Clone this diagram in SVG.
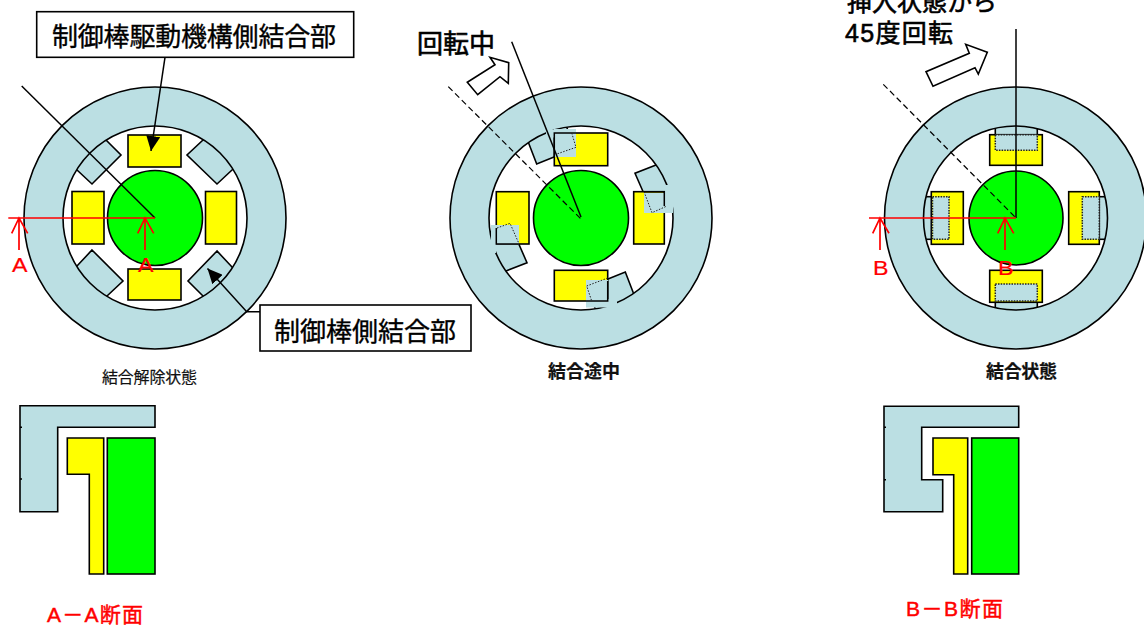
<svg xmlns="http://www.w3.org/2000/svg" width="1144" height="626" viewBox="0 0 1144 626">
<style>
.s{stroke:#000;stroke-width:1.6;stroke-linejoin:miter}
.b{fill:#bbdfe3}.y{fill:#ff0}.g{fill:#0f0}
.n{fill:none}.w{fill:#fff}
.d{fill:none;stroke:#222;stroke-width:1;stroke-dasharray:1.5 1.5}
.bd{fill:#bbdfe3;stroke:#222;stroke-width:1.5;stroke-dasharray:1.5 1.2}
.l{stroke:#000;stroke-width:1.5;fill:none}
.da{stroke:#000;stroke-width:1.2;fill:none;stroke-dasharray:6 3.5}
.r{stroke:#f00;stroke-width:1.7;fill:none}
.t{font-family:"Liberation Sans","Noto Sans CJK JP",sans-serif;fill:#000;stroke:#000;stroke-width:.35}
.h{font-family:"Liberation Sans","Noto Sans CJK JP",sans-serif;fill:#000;stroke:#000;stroke-width:.6}
.c{font-family:"Liberation Sans","Noto Sans CJK JP",sans-serif;fill:#111;stroke:#111;stroke-width:.2}
.rt{font-family:"Liberation Sans","Noto Sans CJK JP",sans-serif;fill:#f00;stroke:#f00;stroke-width:.2}
.rh{font-family:"Liberation Sans","Noto Sans CJK JP",sans-serif;fill:#f00;stroke:#f00;stroke-width:.45}
</style>
<defs>
<path id="ring" fill-rule="evenodd" d="M-131 0A131 131 0 1 1 131 0A131 131 0 1 1-131 0ZM-92 0A92 92 0 1 0 92 0A92 92 0 1 0-92 0Z"/>
<marker id="ah" markerUnits="userSpaceOnUse" markerWidth="16" markerHeight="14" refX="15" refY="7" orient="auto"><path d="M0 0L15 7L0 14Z" fill="#000"/></marker>
</defs>

<g id="state-released">
<g class="b s">
<path d="M106 140L121 155L92 184L77 170L62 155L91 125Z"/>
<path d="M203 140L187 155L217 184L232 170L247 155L218 125Z"/>
<path d="M92 250L123 281L107 296L92 311L62 281L77 266Z"/>
<path d="M217 251L188 281L203 296L218 311L247 282L232 267Z"/>
</g>
<use href="#ring" x="155" y="218" class="b s"/>
<g class="y s">
<rect x="128" y="135" width="53" height="32"/>
<rect x="72" y="191.5" width="32" height="52.5"/>
<rect x="205.5" y="191.5" width="31" height="52.5"/>
<rect x="128" y="269" width="53" height="31"/>
</g>
<circle cx="155" cy="218" r="47.5" class="g s"/>
</g>

<g id="state-rotating">
<g class="b s">
<path d="M528.7 143.3L536.7 164L575.7 148.3L567 128L559 110L521 125Z"/>
<path d="M656 165L635 173.3L652.3 212.7L670 205L690 197L674 157Z"/>
<path d="M633.3 292.7L625.3 272L586.3 287.7L595 308L603 326L641 311Z"/>
<path d="M506 271L527 262.7L509.7 223.3L492 231L472 239L488 279Z"/>
</g>
<use href="#ring" x="581" y="218" class="b s"/>
<g class="y s">
<rect x="554.3" y="133" width="53.4" height="32.7"/>
<rect x="496.3" y="191.7" width="32.7" height="52.3"/>
<rect x="633.7" y="191.7" width="30.6" height="52.3"/>
<rect x="554.3" y="270.3" width="53.4" height="30.7"/>
</g>
<g class="b">
<rect x="554" y="129" width="22" height="28"/>
<rect x="546" y="129.5" width="9" height="8"/>
<rect x="644" y="193" width="29" height="20"/>
<rect x="665" y="185" width="8" height="10"/>
<rect x="586" y="280" width="22" height="27.5"/>
<rect x="607" y="299" width="10" height="8.5"/>
<rect x="491" y="225" width="28" height="19.5"/>
<rect x="489" y="243" width="7" height="10"/>
</g>
<g class="l">
<path d="M554.3 157V133H576"/>
<path d="M644 191.7H664.3V206"/>
<path d="M607.7 281V301H586"/>
<path d="M496.3 228V244H519"/>
</g>
<g class="d">
<path d="M571.7 133L576 147.3L556 154.3"/>
<path d="M644 191.7L652 212.7L667 206"/>
<path d="M607.7 278L586.7 286L591.7 301"/>
<path d="M497 228L510 223.3L518.7 243"/>
</g>
<circle cx="581" cy="218" r="47.5" class="g s"/>
</g>

<g id="state-coupled">
<g class="b s">
<rect x="995.3" y="118" width="42" height="20"/>
<rect x="995.3" y="298" width="42" height="20"/>
<rect x="915" y="196.7" width="20" height="42.6"/>
<rect x="1095" y="196.7" width="20" height="42.6"/>
</g>
<use href="#ring" x="1015.5" y="218" class="b s"/>
<g class="y s">
<rect x="989.7" y="134.7" width="52.6" height="30.6"/>
<rect x="931.3" y="191.7" width="32" height="52.6"/>
<rect x="1068.7" y="191.7" width="30.6" height="52.6"/>
<rect x="989.7" y="270.3" width="52.6" height="32"/>
</g>
<g class="bd">
<rect x="995.3" y="134.7" width="42" height="15.6"/>
<rect x="932.5" y="196.7" width="16.5" height="42.6"/>
<rect x="1082.3" y="196.7" width="17" height="42.6"/>
<rect x="995.3" y="284" width="42" height="17"/>
</g>
<circle cx="1016" cy="218" r="47" class="g s"/>
</g>

<g id="section-aa">
<path class="b s" d="M20 405.7H155V427.3H57.7V511.7H20Z"/>
<path class="l" d="M20 427.3h2M20 479h2"/>
<path class="y s" d="M67.3 438H103.7V574H89.3V474.3H67.3Z"/>
<rect class="g s" x="107.3" y="438" width="47.7" height="136"/>
</g>

<g id="section-bb">
<path class="b s" d="M884 406.3H1018.7V427.3H921.7V479.7H942.7V511.7H884Z"/>
<path class="l" d="M884 427.3h2M884 479.7h2"/>
<path class="y s" d="M933 438H967.7V574H953.7V474.7H933Z"/>
<rect class="g s" x="971.7" y="438" width="47" height="136"/>
</g>

<g id="connectors">
<path class="l" d="M21.7 86L155 218"/>
<path class="l" d="M511.7 41.7L581 217"/>
<path class="da" d="M448.3 86.7L581 219"/>
<path class="l" d="M1016 29V218"/>
<path class="da" d="M883.3 84.3L1016 218"/>
<path class="l" d="M165 57.3L151 151" marker-end="url(#ah)"/>
<path class="l" d="M260 311.7H246.7L207.5 268.5" marker-end="url(#ah)"/>
<g class="r">
<path d="M8.3 218H155M19 250V218M11.7 233.3L19 218L27.7 233.3M145 250V218M137.7 233.3L145 218L153.7 233.3"/>
<path d="M869 218H1016M880 250V218M872.7 233.3L880 218L889 233.3M1005 250V218M997.7 233.3L1005 218L1013.7 233.3"/>
</g>
</g>

<g id="arrow-rotating"><path class="w s" d="M467.3 82.3L477.7 94.7L500 76.7L508.3 83.3L508.7 62.7L490 57.3L495 64.7Z"/></g>
<g id="arrow-coupled"><path class="w s" d="M926 71.7L933 86.3L975 67.7L978.3 74L987.3 52.3L965.7 44.3L969.3 53.3Z"/></g>

<g id="label-drive">
<rect class="w s" x="36.7" y="11.7" width="317" height="45.6"/>
<text class="t" x="52" y="46" font-size="26" textLength="284">制御棒駆動機構側結合部</text>
</g>
<g id="label-rod">
<rect class="w s" x="260" y="305" width="211" height="46"/>
<text class="t" x="274" y="341" font-size="26" textLength="182">制御棒側結合部</text>
</g>

<text class="h" x="417" y="53" font-size="26">回転中</text>
<text class="h" x="847" y="11" font-size="25">挿入状態から</text>
<text class="h" x="845" y="42" font-size="25" textLength="108">45度回転</text>
<text class="c" x="102" y="383" font-size="16" textLength="95">結合解除状態</text>
<text class="c" x="548" y="378" font-size="18" font-weight="700" textLength="72">結合途中</text>
<text class="c" x="986" y="378" font-size="18" font-weight="700" textLength="71">結合状態</text>
<g font-size="20">
<text class="rt" x="12" y="272" textLength="15.5" lengthAdjust="spacingAndGlyphs">A</text>
<text class="rt" x="138" y="272" textLength="15.5" lengthAdjust="spacingAndGlyphs">A</text>
<text class="rt" x="873" y="275" textLength="15.5" lengthAdjust="spacingAndGlyphs">B</text>
<text class="rt" x="998" y="275" textLength="15.5" lengthAdjust="spacingAndGlyphs">B</text>
</g>
<text class="rh" x="47" y="622" font-size="21" textLength="96">A－A断面</text>
<text class="rh" x="906" y="616" font-size="21" textLength="97">B－B断面</text>
</svg>
